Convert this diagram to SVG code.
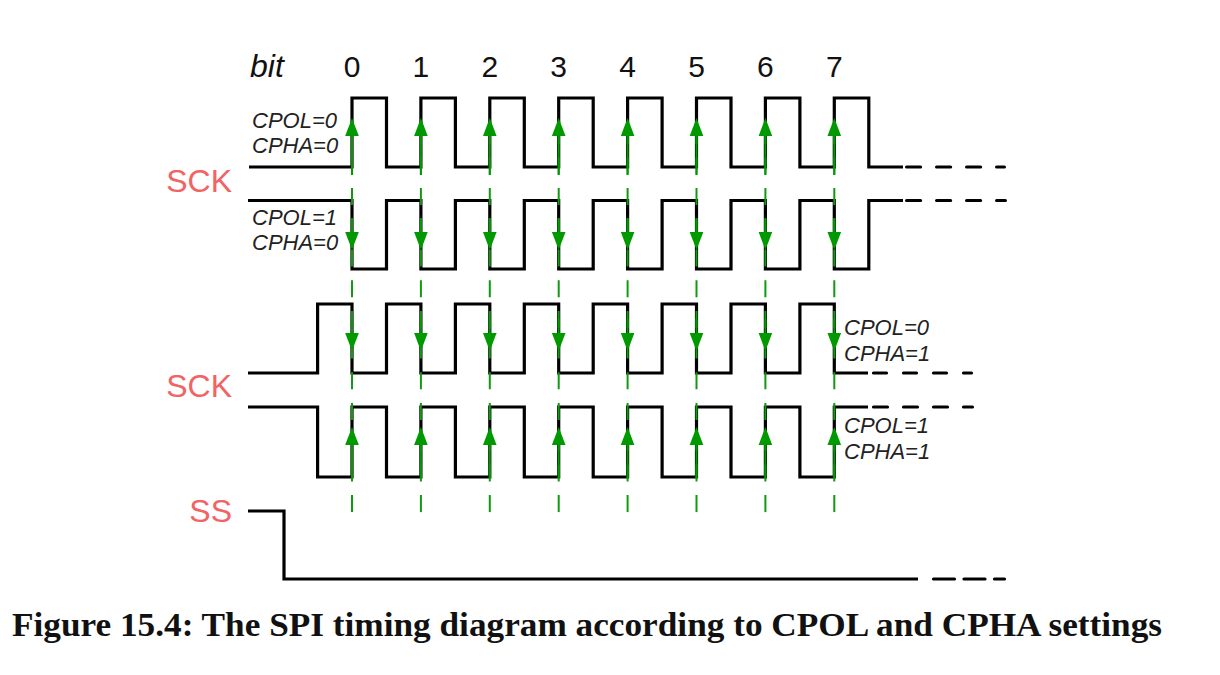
<svg xmlns="http://www.w3.org/2000/svg" width="1220" height="675" viewBox="0 0 1220 675">
<style>
.wave{fill:none;stroke:#000;stroke-width:3.2;stroke-linejoin:miter;stroke-linecap:butt}
.dash{fill:none;stroke:#000;stroke-width:3.2;stroke-linecap:round}
.grid{stroke:#119911;stroke-width:2;stroke-dasharray:17 13.7;fill:none}
.stem{stroke:#009900;stroke-width:2;fill:none}
.head{fill:#009900}
.sig{font-family:"Liberation Sans",Arial,sans-serif;font-size:32px;fill:#f26363}
.mode{font-family:"Liberation Sans",Arial,sans-serif;font-style:italic;font-size:22px;fill:#222}
.bits{font-family:"Liberation Sans",Arial,sans-serif;font-size:30px;fill:#111;text-anchor:middle}
.cap{font-family:"Liberation Serif","Times New Roman",serif;font-weight:bold;font-size:33px;fill:#111}
</style>
<defs>
<path id="up" d="M0,0 L6.8,18 L-6.8,18 Z"/>
<path id="dn" d="M0,18 L6.8,0 L-6.8,0 Z"/>
</defs>
<rect width="1220" height="675" fill="#fff"/>

<g id="header">
<text x="250" y="77" class="bits" style="font-style:italic;text-anchor:start;font-size:32px">bit</text>
<text x="352" y="77" class="bits">0</text>
<text x="420.9" y="77" class="bits">1</text>
<text x="489.8" y="77" class="bits">2</text>
<text x="558.7" y="77" class="bits">3</text>
<text x="627.6" y="77" class="bits">4</text>
<text x="696.5" y="77" class="bits">5</text>
<text x="765.4" y="77" class="bits">6</text>
<text x="834.3" y="77" class="bits">7</text>
</g>

<g id="labels">
<text x="232" y="192" class="sig" text-anchor="end">SCK</text>
<text x="232" y="397" class="sig" text-anchor="end">SCK</text>
<text x="232" y="522" class="sig" text-anchor="end">SS</text>
</g>

<g id="wave-cpol0-cpha0">
<path class="wave" d="M249 167 H352 V98 H386.5 V167 H420.9 V98 H455.4 V167 H489.8 V98 H524.3 V167 H558.7 V98 H593.2 V167 H627.6 V98 H662.1 V167 H696.5 V98 H731 V167 H765.4 V98 H799.9 V167 H834.3 V98 H868.8 V167 H903"/>
<line class="dash" x1="906.6" y1="167" x2="1004.4" y2="167" stroke-dasharray="14 16"/>
<text x="252" y="127.5" class="mode">CPOL=0</text>
<text x="252" y="152.5" class="mode">CPHA=0</text>
</g>

<g id="wave-cpol1-cpha0">
<path class="wave" d="M248 200.5 H352 V269 H386.5 V200.5 H420.9 V269 H455.4 V200.5 H489.8 V269 H524.3 V200.5 H558.7 V269 H593.2 V200.5 H627.6 V269 H662.1 V200.5 H696.5 V269 H731 V200.5 H765.4 V269 H799.9 V200.5 H834.3 V269 H868.8 V200.5 H903"/>
<line class="dash" x1="906.6" y1="200.5" x2="1005.4" y2="200.5" stroke-dasharray="14 16"/>
<text x="252" y="224.5" class="mode">CPOL=1</text>
<text x="252" y="250" class="mode">CPHA=0</text>
</g>

<g id="wave-cpol0-cpha1">
<path class="wave" d="M248 373 H317.6 V304 H352 V373 H386.5 V304 H420.9 V373 H455.4 V304 H489.8 V373 H524.3 V304 H558.7 V373 H593.2 V304 H627.6 V373 H662.1 V304 H696.5 V373 H731 V304 H765.4 V373 H799.9 V304 H834.3 V373 H868"/>
<line class="dash" x1="873.5" y1="373" x2="971.5" y2="373" stroke-dasharray="13 17"/>
<text x="844" y="335" class="mode">CPOL=0</text>
<text x="844" y="361" class="mode">CPHA=1</text>
</g>

<g id="wave-cpol1-cpha1">
<path class="wave" d="M248 407 H317.6 V477 H352 V407 H386.5 V477 H420.9 V407 H455.4 V477 H489.8 V407 H524.3 V477 H558.7 V407 H593.2 V477 H627.6 V407 H662.1 V477 H696.5 V407 H731 V477 H765.4 V407 H799.9 V477 H834.3 V407 H868"/>
<line class="dash" x1="873.5" y1="407" x2="972.5" y2="407" stroke-dasharray="14 16"/>
<text x="844" y="432.5" class="mode">CPOL=1</text>
<text x="844" y="458.5" class="mode">CPHA=1</text>
</g>

<g id="wave-ss">
<path class="wave" d="M248 511 H284 V579 H918"/>
<line class="dash" x1="933.5" y1="579" x2="1004.5" y2="579" stroke-dasharray="21 9.5"/>
</g>

<g id="connectors">
<g id="sample-lines">
<line class="grid" x1="352" y1="126.7" x2="352" y2="512.2"/>
<line class="grid" x1="420.9" y1="126.7" x2="420.9" y2="512.2"/>
<line class="grid" x1="489.8" y1="126.7" x2="489.8" y2="512.2"/>
<line class="grid" x1="558.7" y1="126.7" x2="558.7" y2="512.2"/>
<line class="grid" x1="627.6" y1="126.7" x2="627.6" y2="512.2"/>
<line class="grid" x1="696.5" y1="126.7" x2="696.5" y2="512.2"/>
<line class="grid" x1="765.4" y1="126.7" x2="765.4" y2="512.2"/>
<line class="grid" x1="834.3" y1="126.7" x2="834.3" y2="512.2"/>
</g>
<g id="arrows-w1">
<path class="stem" d="M352 135V175 M420.9 135V175 M489.8 135V175 M558.7 135V175 M627.6 135V175 M696.5 135V175 M765.4 135V175 M834.3 135V175"/>
<use href="#up" class="head" x="352" y="118"/>
<use href="#up" class="head" x="420.9" y="118"/>
<use href="#up" class="head" x="489.8" y="118"/>
<use href="#up" class="head" x="558.7" y="118"/>
<use href="#up" class="head" x="627.6" y="118"/>
<use href="#up" class="head" x="696.5" y="118"/>
<use href="#up" class="head" x="765.4" y="118"/>
<use href="#up" class="head" x="834.3" y="118"/>
</g>
<g id="arrows-w2">
<path class="stem" d="M352 218V233 M420.9 218V233 M489.8 218V233 M558.7 218V233 M627.6 218V233 M696.5 218V233 M765.4 218V233 M834.3 218V233"/>
<use href="#dn" class="head" x="352" y="232"/>
<use href="#dn" class="head" x="420.9" y="232"/>
<use href="#dn" class="head" x="489.8" y="232"/>
<use href="#dn" class="head" x="558.7" y="232"/>
<use href="#dn" class="head" x="627.6" y="232"/>
<use href="#dn" class="head" x="696.5" y="232"/>
<use href="#dn" class="head" x="765.4" y="232"/>
<use href="#dn" class="head" x="834.3" y="232"/>
</g>
<g id="arrows-w3">
<path class="stem" d="M352 319V334 M420.9 319V334 M489.8 319V334 M558.7 319V334 M627.6 319V334 M696.5 319V334 M765.4 319V334 M834.3 319V334"/>
<use href="#dn" class="head" x="352" y="333"/>
<use href="#dn" class="head" x="420.9" y="333"/>
<use href="#dn" class="head" x="489.8" y="333"/>
<use href="#dn" class="head" x="558.7" y="333"/>
<use href="#dn" class="head" x="627.6" y="333"/>
<use href="#dn" class="head" x="696.5" y="333"/>
<use href="#dn" class="head" x="765.4" y="333"/>
<use href="#dn" class="head" x="834.3" y="333"/>
</g>
<g id="arrows-w4">
<path class="stem" d="M352 444V478 M420.9 444V478 M489.8 444V478 M558.7 444V478 M627.6 444V478 M696.5 444V478 M765.4 444V478 M834.3 444V478"/>
<use href="#up" class="head" x="352" y="427"/>
<use href="#up" class="head" x="420.9" y="427"/>
<use href="#up" class="head" x="489.8" y="427"/>
<use href="#up" class="head" x="558.7" y="427"/>
<use href="#up" class="head" x="627.6" y="427"/>
<use href="#up" class="head" x="696.5" y="427"/>
<use href="#up" class="head" x="765.4" y="427"/>
<use href="#up" class="head" x="834.3" y="427"/>
</g>
</g>

<g id="caption">
<text x="12" y="636" class="cap" textLength="1150" lengthAdjust="spacingAndGlyphs">Figure 15.4: The SPI timing diagram according to CPOL and CPHA settings</text>
</g>
</svg>
